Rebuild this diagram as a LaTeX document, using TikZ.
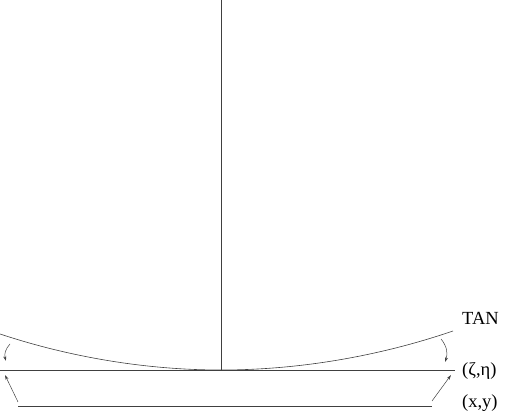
\documentclass[tikz,border=0pt]{standalone}
\usepackage{fontspec}
\setmainfont{Liberation Serif}
\usetikzlibrary{arrows.meta,positioning}

\begin{document}
\begin{tikzpicture}[x=1pt,y=-1pt,
line/.style={line width=0.6pt, black!75},
ptr/.style={line width=0.5pt, black!75, -{Stealth[length=5pt, width=3pt]}},
lbl/.style={anchor=base west, inner sep=0pt, font=\fontsize{18.5}{20}\selectfont}]
\useasboundingbox (0,0) rectangle (507,417);
% frame points
\coordinate (top) at (221,0);
\coordinate (vertex) at (221,370);
\coordinate (tanL) at (0,334);
\coordinate (tanR) at (453,331);
\coordinate (zeL) at (0,370);
\coordinate (zeR) at (455,370);
\coordinate (xyL) at (18,406);
\coordinate (xyR) at (432,406);
% labels
\node[lbl] (tan) at (462,324.5) {TAN};
\node[lbl] (zeta) at (462,375.5) {(ζ,η)};
\node[lbl] (xy) at (462,408) {(x,y)};
% lines
\draw[line] (top) -- (vertex);
\draw[line] (tanL) parabola bend (vertex) (tanR);
\draw[line] (zeL) -- (zeR);
\draw[line] (xyL) -- (xyR);
% arrows
\coordinate (a1) at (10,344);
\coordinate (b1) at (6,361);
\coordinate (a2) at (441,339);
\coordinate (b2) at (445,362);
\coordinate (a3) at (18,402);
\coordinate (b3) at (5,375);
\coordinate (a4) at (432,401);
\coordinate (b4) at (451,375);
\draw[ptr] (a1) to[bend right=30] (b1);
\draw[ptr] (a2) to[bend left=30] (b2);
\draw[ptr] (a3) -- (b3);
\draw[ptr] (a4) -- (b4);
\end{tikzpicture}
\end{document}
